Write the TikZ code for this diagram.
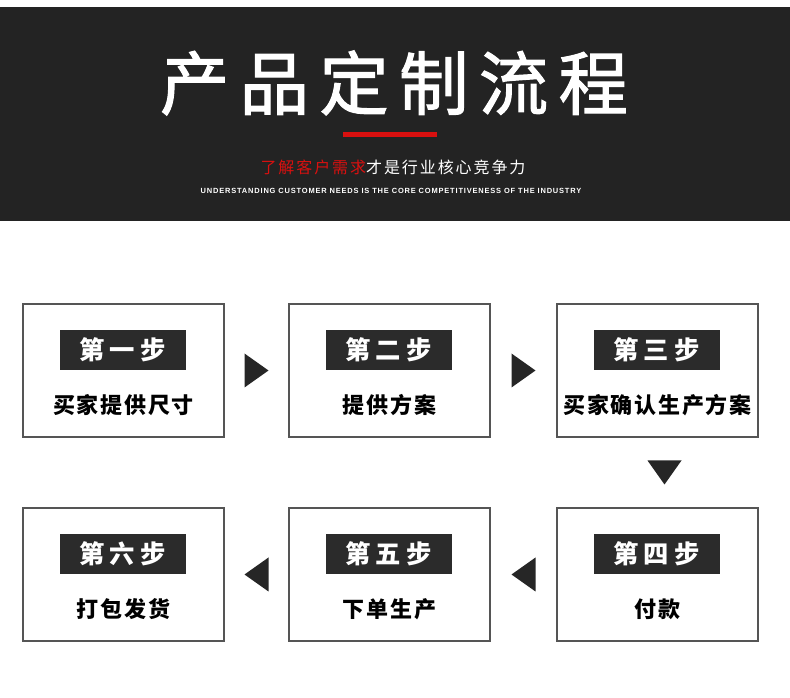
\documentclass[tikz,border=0pt]{standalone}
\usepackage{fontspec}
\usetikzlibrary{calc}
\newfontfamily\cjktitle[LetterSpace=15,FakeBold=1.6]{Noto Sans CJK SC}
\newfontfamily\cjksub[LetterSpace=12]{Noto Sans CJK SC}
\newfontfamily\cjkstep[LetterSpace=20,BoldFont={Noto Sans CJK SC Black}]{Noto Sans CJK SC}
\newfontfamily\cjkbody[LetterSpace=8,BoldFont={Noto Sans CJK SC Black}]{Noto Sans CJK SC}
\newfontfamily\engfont[LetterSpace=11]{Liberation Sans}
\definecolor{band}{HTML}{232323}
\definecolor{labelbg}{HTML}{2B2B2B}
\definecolor{redline}{HTML}{D9100F}
\definecolor{boxline}{HTML}{555555}
\definecolor{tri}{HTML}{262626}
\begin{document}
\begin{tikzpicture}[x=0.75pt,y=-0.75pt,
  stepbox/.style={draw=boxline,line width=1.1pt,minimum width=201*0.75pt,minimum height=133*0.75pt,inner sep=0pt,fill=white},
  steplabel/.style={fill=labelbg,text=white,minimum width=126*0.75pt,minimum height=40*0.75pt,inner sep=0pt,font=\cjkstep\bfseries\fontsize{19pt}{20pt}\selectfont},
  steptext/.style={text=black,inner sep=0pt,font=\cjkbody\bfseries\fontsize{16.5pt}{18pt}\selectfont},
  trifill/.style={fill=tri,draw=none}]
\useasboundingbox (0,0) rectangle (790,698);
\fill[white] (0,0) rectangle (790,698);
\fill[band] (0,7) rectangle (790,221);
\node[text=white,inner sep=0pt,font=\cjktitle\fontsize{52pt}{56pt}\selectfont] (title) at (394,83) {产品定制流程};
\fill[redline] (343,132) rectangle (437,137);
\node[inner sep=0pt,font=\cjksub\fontsize{12pt}{14pt}\selectfont] (sub) at (393,167) {\textcolor{redline}{了解客户需求}\textcolor{white}{才是行业核心竞争力}};
\node[text=white,inner sep=0pt,font=\engfont\bfseries\fontsize{5.6pt}{7pt}\selectfont] (eng) at (391,191) {UNDERSTANDING CUSTOMER NEEDS IS THE CORE COMPETITIVENESS OF THE INDUSTRY};
% boxes
\node[stepbox] (b1) at (123.5,370.5) {};
\node[stepbox] (b2) at (389.5,370.5) {};
\node[stepbox] (b3) at (657.5,370.5) {};
\node[stepbox] (b4) at (657.5,574.5) {};
\node[stepbox] (b5) at (389.5,574.5) {};
\node[stepbox] (b6) at (123.5,574.5) {};
\foreach \b/\s/\t in {b1/第一步/买家提供尺寸, b2/第二步/提供方案, b3/第三步/买家确认生产方案, b4/第四步/付款, b5/第五步/下单生产, b6/第六步/打包发货}{
  \node[steplabel] (\b l) at ($(\b.north)+(-1,46.5)$) {\s};
  \node[steptext] (\b t) at ($(\b.north)+(0,102)$) {\t};
}
% arrows
\coordinate (a12) at ($(b1.east)!0.5!(b2.west)$);
\coordinate (a23) at ($(b2.east)!0.5!(b3.west)$);
\coordinate (a34) at ($(b3.south)!0.5!(b4.north)+(7,0)$);
\coordinate (a45) at ($(b4.west)!0.5!(b5.east)$);
\coordinate (a56) at ($(b5.west)!0.5!(b6.east)$);
\fill[trifill] ($(a12)+(-12,-17)$) -- ($(a12)+(12,0)$) -- ($(a12)+(-12,17)$) -- cycle;
\fill[trifill] ($(a23)+(-12,-17)$) -- ($(a23)+(12,0)$) -- ($(a23)+(-12,17)$) -- cycle;
\fill[trifill] ($(a34)+(-17,-12)$) -- ($(a34)+(17,-12)$) -- ($(a34)+(0,12)$) -- cycle;
\fill[trifill] ($(a45)+(12,-17)$) -- ($(a45)+(-12,0)$) -- ($(a45)+(12,17)$) -- cycle;
\fill[trifill] ($(a56)+(12,-17)$) -- ($(a56)+(-12,0)$) -- ($(a56)+(12,17)$) -- cycle;
\end{tikzpicture}
\end{document}
